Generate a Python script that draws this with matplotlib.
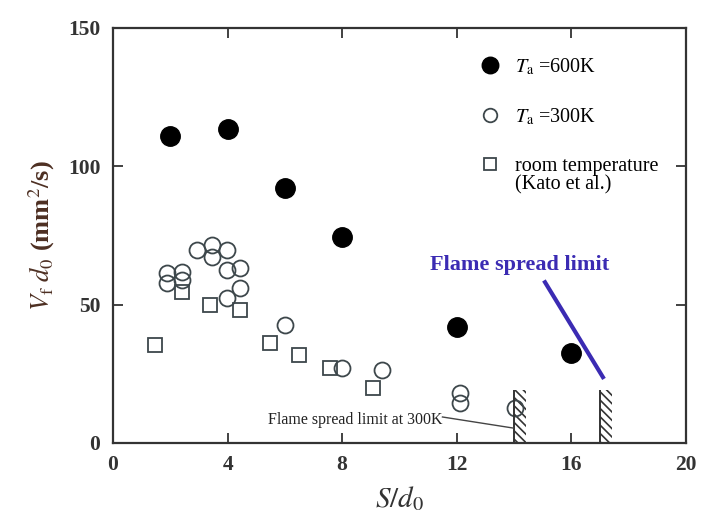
""" flame spread rate vs. droplet spacing """

import matplotlib
matplotlib.use("Agg")
import matplotlib.pyplot as plt
import numpy

# Ta = 600 K (filled circles)
hot_x = [2, 4, 6, 8, 12, 16]
hot_y = [110.8, 113.4, 92.0, 74.4, 41.9, 32.5]

# Ta = 300 K (open circles)
cold_x = [1.88, 1.88, 2.4, 2.4, 2.93, 3.46, 3.46, 3.98, 3.98, 4.43, 4.43, 3.98,
          6.0, 8.0, 9.39, 12.1, 12.1, 14.03]
cold_y = [61.4, 57.8, 61.7, 58.8, 69.7, 71.5, 67.1, 69.7, 62.5, 63.2, 56.0, 52.3,
          42.6, 27.0, 26.4, 18.0, 14.4, 12.6]

# room temperature, Kato et al. (open squares)
kato_x = [1.47, 2.4, 3.4, 4.45, 5.48, 6.49, 7.57, 9.07]
kato_y = [35.4, 54.5, 49.8, 48.0, 36.1, 31.8, 27.0, 19.9]

# flame spread limits (hatched walls)
limit_x = [14, 17]
limit_h = [19, 19]

plt.rcParams["font.family"] = ["Liberation Serif", "DejaVu Serif"]
plt.rcParams["mathtext.fontset"] = "stix"
plt.rcParams["hatch.linewidth"] = 1.2

fig = plt.figure(figsize=(7.03, 5.25), dpi=100)
ax = fig.add_axes([0.1607, 0.1562, 0.8151, 0.7905])

open_col = "#3d474b"
p1, = ax.plot(hot_x, hot_y, "o", ms=14, color="black", linestyle="")
p2, = ax.plot(cold_x, cold_y, "o", ms=11.5, mfc="none", mec=open_col, mew=1.3, linestyle="")
p3, = ax.plot(kato_x, kato_y, "s", ms=9.5, mfc="none", mec=open_col, mew=1.3, linestyle="")

# hatched walls marking the limits
ax.bar(limit_x, limit_h, width=0.42, align="edge", fill=False, hatch="\\\\\\\\",
       edgecolor="#333333", linewidth=0)
ax.vlines(limit_x, 0, limit_h, color="#333333", linewidth=1.4)

# annotations
blue = "#3b2bb3"
ax.text(11.06, 64.3, "Flame spread limit", color=blue, fontsize=16,
        fontweight="bold", va="center", ha="left")
ax.plot([15.08, 17.1], [58.1, 23.8], color=blue, linewidth=3)
ax.text(5.41, 8.3, "Flame spread limit at 300K", fontsize=11.5,
        va="center", ha="left", color="#222222")
ax.plot([11.5, 13.97], [9.4, 5.4], color="#444444", linewidth=1)

ax.set_xlim(0, 20)
ax.set_ylim(0, 150)
ax.set_xticks(numpy.arange(0, 21, 4))
ax.set_yticks([0, 50, 100, 150])
ax.tick_params(direction="in", length=7, width=1.3, top=True, right=True,
               labelsize=15.5, labelcolor="#333333", pad=9, color="#333333")
for lab in ax.get_xticklabels() + ax.get_yticklabels():
    lab.set_fontweight("bold")
for s in ax.spines.values():
    s.set_linewidth(1.6)
    s.set_color("#333333")

ax.set_xlabel(r"$S/d_0$", fontsize=21, color="#333333", labelpad=6)
ax.set_ylabel(r"$V_\mathrm{f}\ d_0$ (mm$^2$/s)", fontsize=19, color="#4d2f22",
              fontweight="bold", labelpad=8)

ax.legend((p1, p2, p3),
          (r"$T_\mathrm{a}$ =600K", r"$T_\mathrm{a}$ =300K", "room temperature"),
          loc="upper left", bbox_to_anchor=(0.601, 0.96),
          frameon=False, fontsize=14.5, handletextpad=0.25, labelspacing=1.45,
          borderaxespad=0.2, markerscale=0.85)
# second line of the last legend entry
ax.text(0.7016, 0.621, "(Kato et al.)", transform=ax.transAxes, fontsize=14.5,
        va="center", ha="left")

plt.savefig("out.png", dpi=100)
plt.close()
